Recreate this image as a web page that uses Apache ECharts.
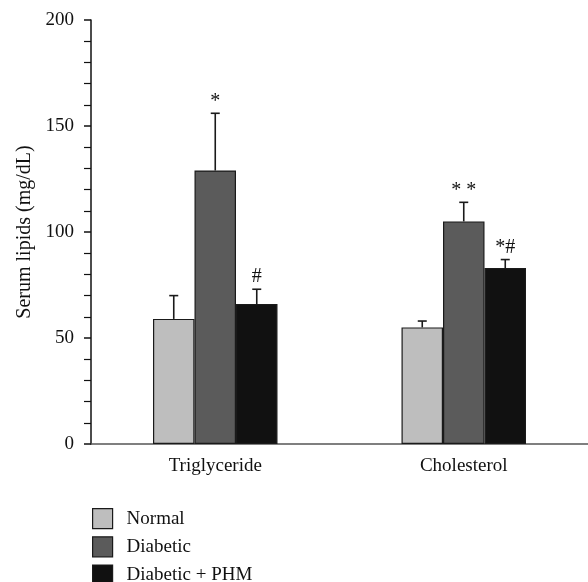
<!DOCTYPE html>
<html>
<head>
<meta charset="utf-8">
<script src="https://cdn.jsdelivr.net/npm/echarts@6/dist/echarts.min.js"></script>
<style>
  html, body { margin: 0; padding: 0; background: #fff; }
  #chart { width: 588px; height: 582px; }
</style>
</head>
<body>
<div id="chart"></div>
<script>
// data
const categories = ['Triglyceride', 'Cholesterol']
const groups = ['Normal', 'Diabetic', 'Diabetic + PHM']
const normalMean = [59, 55]
const normalUpper = [70, 58]
const diabeticMean = [129, 105]
const diabeticUpper = [156, 114]
const phmMean = [66, 83]
const phmUpper = [73, 87]
const normalMarks = ['', '']
const diabeticMarks = ['*', '* *']
const phmMarks = ['#', '*#']

const means = [normalMean, diabeticMean, phmMean]
const uppers = [normalUpper, diabeticUpper, phmUpper]
const marks = [normalMarks, diabeticMarks, phmMarks]
const colors = ['#bebebe', '#5b5b5b', '#111111']
const serif = '"Liberation Serif", "DejaVu Serif", serif'
const barW = 41.5

const chart = echarts.init(document.getElementById('chart'))

// error bar rows: [category index, mean, upper, group index, mark]
const errRows = []
means.forEach((arr, g) => {
  arr.forEach((v, c) => {
    errRows.push([c, v, uppers[g][c], g, marks[g][c]])
  })
})

const barSeries = groups.map((name, g) => ({
  name: name,
  type: 'bar',
  barWidth: barW,
  barGap: '0%',
  itemStyle: { color: colors[g], borderColor: '#1a1a1a', borderWidth: 1.2 },
  data: means[g]
}))

chart.setOption({
  animation: false,
  textStyle: { fontFamily: serif },
  legend: {
    orient: 'vertical',
    left: 92,
    top: 508,
    height: 100,
    padding: 0,
    itemWidth: 20,
    itemHeight: 20,
    itemGap: 7,
    icon: 'rect',
    itemStyle: { borderColor: '#1a1a1a', borderWidth: 1.2 },
    textStyle: { fontSize: 19, lineHeight: 20, color: '#111', fontFamily: serif, padding: [0, 0, 0, 9] },
    data: groups
  },
  grid: { left: 91, top: 20, width: 500, height: 424, containLabel: false },
  xAxis: {
    type: 'category',
    data: categories,
    axisLine: { lineStyle: { color: '#555', width: 1.5 } },
    axisTick: { show: false },
    axisLabel: { fontSize: 19, color: '#111', fontFamily: serif, margin: 13 }
  },
  yAxis: {
    type: 'value',
    min: 0,
    max: 200,
    interval: 50,
    name: 'Serum lipids (mg/dL)',
    nameLocation: 'middle',
    nameGap: 56,
    nameTextStyle: { fontSize: 20, color: '#111', fontFamily: serif },
    axisLine: { show: true, lineStyle: { color: '#111', width: 1.5 } },
    axisTick: { show: true, length: 7, lineStyle: { color: '#111', width: 1.5 } },
    minorTick: { show: true, splitNumber: 5, length: 7, lineStyle: { color: '#111', width: 1.2 } },
    splitLine: { show: false },
    axisLabel: { fontSize: 19, color: '#111', fontFamily: serif, margin: 17 }
  },
  series: barSeries.concat([{
    type: 'custom',
    name: 'err',
    z: 5,
    renderItem: function (params, api) {
      const c = api.value(0)
      const g = api.value(3)
      const top = api.coord([c, api.value(1)])
      const hi = api.coord([c, api.value(2)])
      const x = top[0] + (g - 1) * barW
      const cap = 4.5
      const children = [
        { type: 'line', shape: { x1: x, y1: top[1], x2: x, y2: hi[1] }, style: { stroke: '#1a1a1a', lineWidth: 1.6 } },
        { type: 'line', shape: { x1: x - cap, y1: hi[1], x2: x + cap, y2: hi[1] }, style: { stroke: '#1a1a1a', lineWidth: 1.6 } }
      ]
      const mark = errRows[params.dataIndex][4]
      if (mark) {
        children.push({
          type: 'text',
          style: {
            text: mark,
            x: x,
            y: hi[1] - 2,
            align: 'center',
            verticalAlign: 'bottom',
            fontSize: 20,
            fontFamily: serif,
            fill: '#111'
          }
        })
      }
      return { type: 'group', children: children }
    },
    data: errRows.map(r => r.slice(0, 4))
  }])
})
</script>
</body>
</html>
